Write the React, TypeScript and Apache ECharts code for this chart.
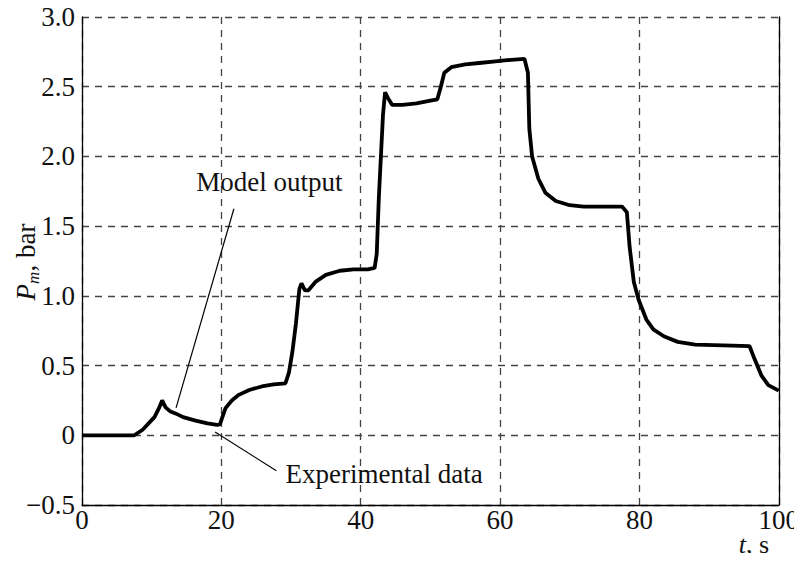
import React, { useEffect, useRef } from "react";
import * as echarts from "echarts";

const timeS = [0, 3, 7.5, 8.7, 10.4, 11.1, 11.5, 12.0, 12.7, 13.5, 14.5, 16.3, 18, 19.4, 19.8, 20.6, 21.5, 22.5, 24, 25.8, 27.5, 29.2, 29.7, 30.2, 30.7, 31.2, 31.5, 32, 32.5, 33.5, 35, 37, 39, 41, 42, 42.3, 42.6, 42.9, 43.2, 43.5, 43.9, 44.5, 46, 48, 50, 51, 51.5, 52, 53, 55, 57, 59, 61, 63.5, 64.0, 64.2, 64.6, 65.5, 66.5, 68, 70, 72, 77.5, 78.2, 78.6, 79.2, 79.9, 81, 82, 83.5, 85.5, 88, 92, 95.8, 96.5, 97.5, 98.5, 100];
const pressureBar = [0, 0, 0, 0.04, 0.13, 0.2, 0.25, 0.2, 0.17, 0.155, 0.13, 0.105, 0.085, 0.074, 0.08, 0.195, 0.25, 0.29, 0.325, 0.35, 0.365, 0.373, 0.45, 0.6, 0.8, 1.05, 1.09, 1.04, 1.04, 1.1, 1.15, 1.18, 1.19, 1.19, 1.2, 1.3, 1.7, 2.0, 2.3, 2.46, 2.42, 2.37, 2.37, 2.38, 2.4, 2.41, 2.5, 2.6, 2.64, 2.66, 2.67, 2.68, 2.69, 2.7, 2.6, 2.2, 2.0, 1.84, 1.74, 1.68, 1.65, 1.64, 1.64, 1.6, 1.35, 1.1, 0.97, 0.83, 0.76, 0.71, 0.67, 0.65, 0.645, 0.64, 0.55, 0.43, 0.36, 0.32];

const xTicks = [0, 20, 40, 60, 80, 100];
const yTicks = [-0.5, 0, 0.5, 1.0, 1.5, 2.0, 2.5, 3.0];

const modelLine = [[21.8, 1.625], [13.5, 0.196]];
const expLine = [[19.1, 0.024], [27.9, -0.255]];
const modelText = { label: "Model output", at: [16.4, 1.82] };
const expText = { label: "Experimental data", at: [29.2, -0.28] };

const FONT = "'Liberation Serif', 'Times New Roman', serif";

export default function App() {
  const ref = useRef<HTMLDivElement>(null);
  useEffect(() => {
    if (!ref.current) return;
    const chart = echarts.init(ref.current, null, { renderer: "svg" });
    const data = timeS.map((t, i) => [t, pressureBar[i]]);
    chart.setOption({
      animation: false,
      grid: { left: 82, right: 18, top: 17, bottom: 56 },
      xAxis: {
        type: "value",
        min: xTicks[0],
        max: xTicks[xTicks.length - 1],
        interval: 20,
        axisLine: { show: true, onZero: false, lineStyle: { color: "#000", width: 1.3 } },
        axisTick: { show: false },
        axisLabel: { color: "#111", fontFamily: FONT, fontSize: 27, margin: 2, lineHeight: 26 },
        splitLine: { show: true, lineStyle: { color: "#444", type: [7, 6], width: 1.3 } },
      },
      yAxis: [
        {
          type: "value",
          min: yTicks[0],
          max: yTicks[yTicks.length - 1],
          interval: 0.5,
          axisLine: { show: true, onZero: false, lineStyle: { color: "#000", width: 1.3 } },
          axisTick: { show: false },
          axisLabel: {
            color: "#111",
            fontFamily: FONT,
            fontSize: 27,
            margin: 7,
            formatter: (v: number) => (v === 0 ? "0" : v < 0 ? "\u2212" + Math.abs(v).toFixed(1) : v.toFixed(1)),
          },
          splitLine: { show: true, lineStyle: { color: "#444", type: [7, 6], width: 1.3 } },
        },
        {
          type: "value",
          position: "right",
          min: yTicks[0],
          max: yTicks[yTicks.length - 1],
          interval: 0.5,
          axisLine: { show: true, onZero: false, lineStyle: { color: "#000", width: 1.3 } },
          axisTick: { show: false },
          axisLabel: { show: false },
          splitLine: { show: false },
        },
      ],
      series: [
        {
          type: "line",
          data,
          showSymbol: false,
          lineStyle: { color: "#000", width: 3.8 },
          z: 5,
        },
      ],
    });

    const px = (p: number[]) => chart.convertToPixel({ xAxisIndex: 0, yAxisIndex: 0 }, p) as number[];
    const m0 = px(modelLine[0]);
    const m1 = px(modelLine[1]);
    const e0 = px(expLine[0]);
    const e1 = px(expLine[1]);
    const mt = px(modelText.at);
    const et = px(expText.at);
    chart.setOption({
      graphic: [
        { type: "line", shape: { x1: m0[0], y1: m0[1], x2: m1[0], y2: m1[1] }, style: { stroke: "#000", lineWidth: 1.2 }, z: 10 },
        { type: "line", shape: { x1: e0[0], y1: e0[1], x2: e1[0], y2: e1[1] }, style: { stroke: "#000", lineWidth: 1.2 }, z: 10 },
        {
          type: "text",
          x: mt[0],
          y: mt[1],
          style: { text: modelText.label, font: `27px ${FONT}`, fill: "#111", verticalAlign: "middle" },
          z: 10,
        },
        {
          type: "text",
          x: et[0],
          y: et[1],
          style: { text: expText.label, font: `27px ${FONT}`, fill: "#111", verticalAlign: "middle" },
          z: 10,
        },
        {
          type: "text",
          x: 754,
          y: 544,
          style: {
            text: "{i|t}{n|, s}",
            verticalAlign: "middle",
            align: "center",
            rich: {
              i: { fontFamily: FONT, fontSize: 26, fontStyle: "italic", fill: "#111", lineHeight: 22 },
              n: { fontFamily: FONT, fontSize: 26, fill: "#111", lineHeight: 22 },
            },
          },
          z: 10,
        },
        {
          type: "text",
          x: 26,
          y: 262,
          rotation: Math.PI / 2,
          style: {
            text: "{i|P}{s|m}{n|, bar}",
            verticalAlign: "middle",
            align: "center",
            rich: {
              i: { fontFamily: FONT, fontSize: 27, fontStyle: "italic", fill: "#111", lineHeight: 32, verticalAlign: "middle" },
              s: { fontFamily: FONT, fontSize: 17, fontStyle: "italic", fill: "#111", lineHeight: 32, verticalAlign: "bottom" },
              n: { fontFamily: FONT, fontSize: 27, fill: "#111", lineHeight: 32, verticalAlign: "middle" },
            },
          },
          z: 10,
        },
      ],
    });
    return () => chart.dispose();
  }, []);
  return <div ref={ref} style={{ width: 802, height: 561, margin: -8 }} />;
}
